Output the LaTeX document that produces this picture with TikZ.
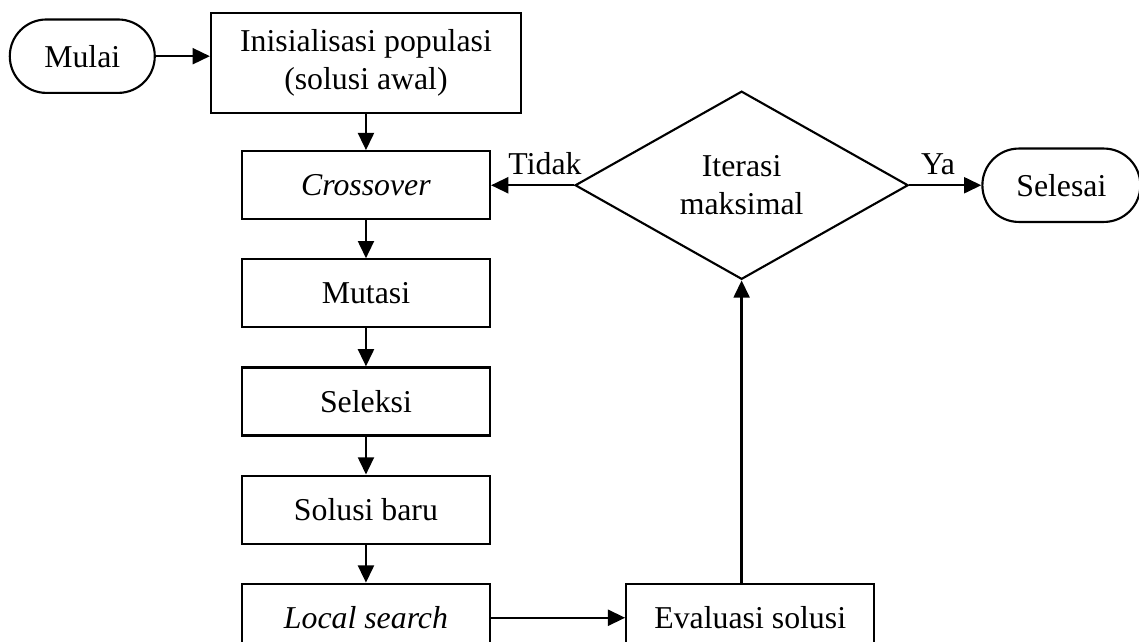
\documentclass[tikz,border=0pt]{standalone}
\usepackage{fontspec}
\setmainfont{Liberation Serif}
\usetikzlibrary{arrows.meta,positioning,shapes.geometric}

\begin{document}
\begin{tikzpicture}[->,>={Triangle[length=6.5pt,width=6pt]},line width=0.9pt,
    node distance=14.3pt,font=\fontsize{12}{14.4}\selectfont,
    proc/.style={rectangle,draw,line width=0.8pt,minimum width=93.6pt,minimum height=25.7pt,inner sep=2pt},
    term/.style={rectangle,draw,line width=0.8pt,rounded corners=13.8pt,minimum height=27.7pt,inner sep=2pt},
    decision/.style={diamond,draw,line width=0.8pt,aspect=1.77,minimum width=125.7pt,minimum height=71pt,
      inner sep=0pt,align=center}]

  \useasboundingbox (-138.1pt,-218.1pt) rectangle (291.7pt,23.8pt);

  \node[proc,minimum width=117pt,minimum height=37.7pt,align=center] (init)
        {Inisialisasi populasi\\(solusi awal)};
  \node[term,minimum width=54.7pt] (mulai) [left=20.4pt of init,yshift=2.6pt] {Mulai};
  \node[proc] (cross) [below=13.6pt of init] {\textit{Crossover}};
  \node[proc] (mutasi) [below=of cross]     {Mutasi};
  \node[proc] (seleksi) [below=of mutasi]   {Seleksi};
  \node[proc] (baru) [below=of seleksi]     {Solusi baru};
  \node[proc] (local) [below=of baru]       {\textit{Local search}};
  \node[proc] (eval) [right=50.6pt of local] {Evaluasi solusi};
  \node[decision] (iter) [right=31.3pt of cross] {Iterasi\\maksimal};
  \node[term,minimum width=59.6pt] (selesai) [right=27.2pt of iter] {Selesai};

  \path (mulai.east) edge (init.west |- mulai.east);
  \path (init) edge (cross)
        (cross) edge (mutasi)
        (mutasi) edge (seleksi)
        (seleksi) edge (baru)
        (baru) edge (local);
  \path (local) edge (eval);
  \path (iter.south |- eval.north) edge (iter.south);
  \path (iter) edge node[above,pos=0.35] {Tidak} (cross)
        (iter) edge node[above,pos=0.4] {Ya} (selesai);
\end{tikzpicture}
\end{document}
